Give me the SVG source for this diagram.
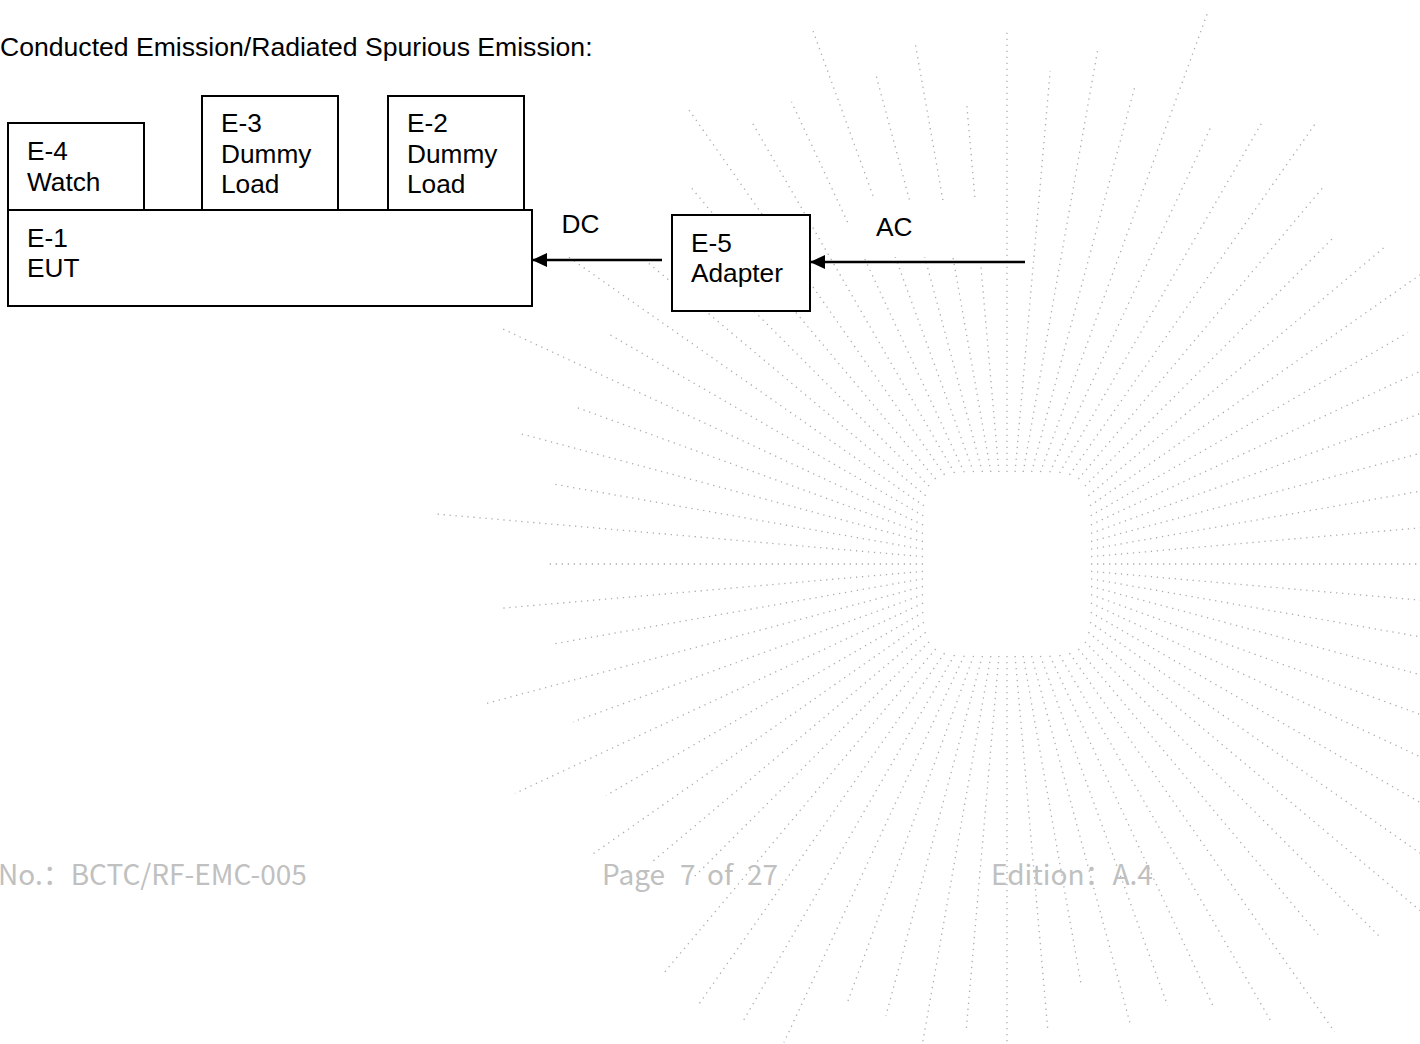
<svg xmlns="http://www.w3.org/2000/svg" width="1420" height="1044" viewBox="0 0 1420 1044">
<defs>
<style>
.wm line{stroke:#acacac;stroke-width:1.3;stroke-dasharray:1.3 4.7;fill:none}
.box{fill:#fff;stroke:#000;stroke-width:2}
.lbl{font-family:"Liberation Sans",Arial,sans-serif;font-size:25px;fill:#000}
.ft{font-family:"Noto Sans CJK SC","Noto Sans",sans-serif;font-size:28px;fill:#c0c0c0}
.con{stroke:#000;stroke-width:2.5;fill:none}
</style>
<marker id="ah" markerUnits="userSpaceOnUse" markerWidth="15" markerHeight="14" viewBox="0 0 15 14" refX="15" refY="7" orient="auto">
<path d="M0,0 L15,7 L0,14 z" fill="#000"/>
</marker>
</defs>
<rect x="0" y="0" width="1420" height="1044" fill="#fff"/>
<g id="watermark" class="wm">
<line x1="1091" y1="564" x2="1567" y2="564"/>
<line x1="1091" y1="571.4" x2="1564.9" y2="612.8"/>
<line x1="1091" y1="578.8" x2="1558.5" y2="661.2"/>
<line x1="1091" y1="586.5" x2="1547.9" y2="708.9"/>
<line x1="1091" y1="594.6" x2="1533.2" y2="755.5"/>
<line x1="1090.9" y1="603.1" x2="1514.5" y2="800.7"/>
<line x1="1090.7" y1="612.4" x2="1492" y2="844"/>
<line x1="1090.1" y1="622.2" x2="1449.4" y2="873.7"/>
<line x1="1088.4" y1="632.3" x2="1424.5" y2="914.3"/>
<line x1="1084.9" y1="641.9" x2="1381.1" y2="938.1"/>
<line x1="1078.4" y1="649" x2="1318.1" y2="934.7"/>
<line x1="1069.5" y1="653.2" x2="1334.5" y2="1031.8"/>
<line x1="1059.6" y1="655" x2="1271" y2="1021.3"/>
<line x1="1049.8" y1="655.7" x2="1214.5" y2="1009"/>
<line x1="1040.4" y1="655.9" x2="1167.7" y2="1005.7"/>
<line x1="1031.6" y1="656" x2="1130.2" y2="1023.8"/>
<line x1="1023.2" y1="656" x2="1081.1" y2="984.5"/>
<line x1="1015.1" y1="656" x2="1047.9" y2="1031.2"/>
<line x1="1007" y1="656" x2="1007" y2="1049"/>
<line x1="998.9" y1="656" x2="966.2" y2="1030.2"/>
<line x1="990.8" y1="656" x2="922.5" y2="1043.6"/>
<line x1="982.4" y1="656" x2="885.9" y2="1016"/>
<line x1="973.6" y1="655.9" x2="847.3" y2="1002.8"/>
<line x1="964.2" y1="655.7" x2="783.9" y2="1042.5"/>
<line x1="954.5" y1="655" x2="743.5" y2="1020.4"/>
<line x1="944.5" y1="653.2" x2="697.3" y2="1006.4"/>
<line x1="935.6" y1="649" x2="662.5" y2="974.6"/>
<line x1="929.1" y1="641.9" x2="692.3" y2="878.7"/>
<line x1="925.6" y1="632.3" x2="650.8" y2="862.9"/>
<line x1="923.9" y1="622.2" x2="590" y2="856"/>
<line x1="923.3" y1="612.4" x2="606" y2="795.5"/>
<line x1="923.1" y1="603.1" x2="514.9" y2="793.5"/>
<line x1="923" y1="594.6" x2="572.9" y2="722"/>
<line x1="923" y1="586.5" x2="484.4" y2="704"/>
<line x1="923" y1="578.8" x2="552" y2="644.2"/>
<line x1="923" y1="571.4" x2="499.9" y2="608.4"/>
<line x1="923" y1="564" x2="546" y2="564"/>
<line x1="923" y1="556.6" x2="437.2" y2="514.1"/>
<line x1="923" y1="549.2" x2="553" y2="484"/>
<line x1="923" y1="541.5" x2="517.3" y2="432.8"/>
<line x1="923" y1="533.4" x2="574.7" y2="406.7"/>
<line x1="923.1" y1="524.9" x2="500.4" y2="327.8"/>
<line x1="923.3" y1="515.7" x2="607.8" y2="333.5"/>
<line x1="923.9" y1="505.8" x2="564.6" y2="254.3"/>
<line x1="925.6" y1="495.7" x2="631.7" y2="249"/>
<line x1="929.1" y1="486.1" x2="681.7" y2="238.7"/>
<line x1="935.6" y1="479" x2="688.8" y2="184.8"/>
<line x1="944.5" y1="474.8" x2="686.9" y2="106.9"/>
<line x1="954.5" y1="473" x2="750.5" y2="119.7"/>
<line x1="964.2" y1="472.3" x2="791.5" y2="101.8"/>
<line x1="973.6" y1="472.1" x2="812.1" y2="28.4"/>
<line x1="982.4" y1="472" x2="876.3" y2="76.2"/>
<line x1="990.8" y1="472" x2="915.2" y2="43"/>
<line x1="998.9" y1="472" x2="966.6" y2="102.8"/>
<line x1="1007" y1="472" x2="1007" y2="31"/>
<line x1="1015.1" y1="472" x2="1050.2" y2="70.9"/>
<line x1="1023.2" y1="472" x2="1097.8" y2="49"/>
<line x1="1031.6" y1="472" x2="1135.6" y2="83.9"/>
<line x1="1040.4" y1="472.1" x2="1208.4" y2="10.5"/>
<line x1="1049.8" y1="472.3" x2="1210.7" y2="127.2"/>
<line x1="1059.6" y1="473" x2="1263" y2="120.6"/>
<line x1="1069.5" y1="474.8" x2="1316.7" y2="121.6"/>
<line x1="1078.4" y1="479" x2="1324.5" y2="185.6"/>
<line x1="1084.9" y1="486.1" x2="1333.7" y2="237.3"/>
<line x1="1088.4" y1="495.7" x2="1384.6" y2="247.1"/>
<line x1="1090.1" y1="505.8" x2="1433" y2="265.7"/>
<line x1="1090.7" y1="515.7" x2="1408" y2="332.5"/>
<line x1="1090.9" y1="524.9" x2="1419.4" y2="371.7"/>
<line x1="1091" y1="533.4" x2="1533.2" y2="372.5"/>
<line x1="1091" y1="541.5" x2="1547.9" y2="419.1"/>
<line x1="1091" y1="549.2" x2="1558.5" y2="466.8"/>
<line x1="1091" y1="556.6" x2="1564.9" y2="515.2"/>
</g>
<text class="lbl" transform="matrix(1.064 0 0 1 0 56)">Conducted Emission/Radiated Spurious Emission:</text>
<g id="E-4">
<rect class="box" x="8" y="123" width="136" height="87"/>
<text class="lbl" transform="matrix(1.05 0 0 1 27 160)"><tspan x="0" y="0">E-4</tspan><tspan x="0" y="31">Watch</tspan></text>
</g>
<g id="E-3">
<rect class="box" x="202" y="96" width="136" height="114"/>
<text class="lbl" transform="matrix(1.05 0 0 1 221 132)"><tspan x="0" y="0">E-3</tspan><tspan x="0" y="31">Dummy</tspan><tspan x="0" y="61">Load</tspan></text>
</g>
<g id="E-2">
<rect class="box" x="388" y="96" width="136" height="114"/>
<text class="lbl" transform="matrix(1.05 0 0 1 407 132)"><tspan x="0" y="0">E-2</tspan><tspan x="0" y="31">Dummy</tspan><tspan x="0" y="61">Load</tspan></text>
</g>
<g id="E-1">
<rect class="box" x="8" y="210" width="524" height="96"/>
<text class="lbl" transform="matrix(1.05 0 0 1 27 247)"><tspan x="0" y="0">E-1</tspan><tspan x="0" y="30">EUT</tspan></text>
</g>
<g id="E-5">
<rect class="box" x="672" y="215" width="138" height="96"/>
<text class="lbl" transform="matrix(1.05 0 0 1 691 252)"><tspan x="0" y="0">E-5</tspan><tspan x="0" y="30">Adapter</tspan></text>
</g>
<g id="connectors">
<rect x="545" y="198" width="117" height="59" fill="#fff"/>
<rect x="848" y="200" width="152" height="57" fill="#fff"/>
<line class="con" x1="662" y1="260" x2="532" y2="260" marker-end="url(#ah)"/>
<line class="con" x1="1025" y1="262" x2="810" y2="262" marker-end="url(#ah)"/>
<text class="lbl" transform="matrix(1.05 0 0 1 561.5 233)">DC</text>
<text class="lbl" transform="matrix(1.05 0 0 1 876 236)">AC</text>
</g>
<g id="footer">
<text class="ft" x="-2" y="885">No.：BCTC/RF-EMC-005</text>
<text class="ft" y="885"><tspan x="602">Page </tspan><tspan x="680">7 </tspan><tspan x="707">of </tspan><tspan x="747">27</tspan></text>
<text class="ft" x="991" y="885">Edition：A.4</text>
</g>
</svg>
